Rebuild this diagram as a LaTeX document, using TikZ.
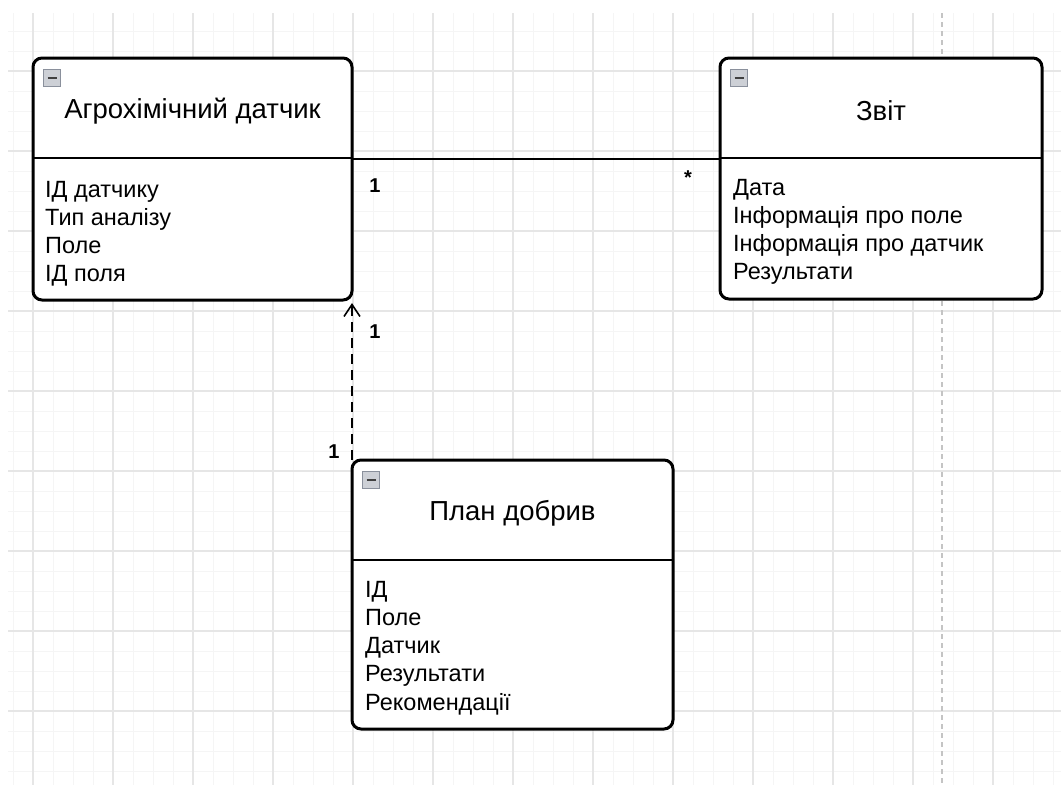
\documentclass[tikz,border=0pt]{standalone}
\usepackage{fontspec}
\setmainfont{Liberation Sans}
\usetikzlibrary{positioning,arrows.meta,calc}
\definecolor{gridminor}{HTML}{F5F5F5}
\definecolor{gridmajor}{HTML}{E6E6E6}
\definecolor{pagebreak}{HTML}{C4C4C4}
\definecolor{iconfill}{HTML}{CDD0D6}
\definecolor{iconborder}{HTML}{8A909C}
\tikzset{
    classbox/.style={rectangle, rounded corners=9pt, draw=black, line width=3pt, fill=white, anchor=north west, inner sep=0pt, outer sep=0pt},
    divider/.style={line width=2.5pt},
    minbox/.style={rectangle, draw=iconborder, fill=iconfill, line width=1.2pt, minimum size=17pt, inner sep=0pt,
        path picture={\draw[line width=2.6pt, black!75] ([xshift=4pt]path picture bounding box.west) -- ([xshift=-4pt]path picture bounding box.east);}},
    classtitle/.style={font=\fontsize{27.5}{32}\selectfont, anchor=base, inner sep=0pt},
    classattr/.style={font=\fontsize{23.5}{27}\selectfont, anchor=base west, inner sep=0pt},
    multlabel/.style={font=\bfseries\fontsize{20}{24}\selectfont, inner sep=0pt},
    assoc/.style={line width=1.5pt},
    dep/.style={line width=2pt, dash pattern=on 10pt off 6pt, -{Straight Barb[length=12pt,width=16pt,line width=1.6pt]}},
}

\begin{document}
\begin{tikzpicture}
        [x=1pt, y=-1pt]

        % Canvas and grid
        \useasboundingbox[fill=white] (0,0) rectangle (1061,785);
        \begin{scope}
            \clip (8,13) rectangle (1061,785);
            \foreach \x in {13,33,...,1061} \draw[gridminor, line width=1pt] (\x,13) -- (\x,785);
            \foreach \y in {31,51,...,785} \draw[gridminor, line width=1pt] (8,\y) -- (1061,\y);
            \foreach \x in {33,113,...,1061} \draw[gridmajor, line width=1.2pt] (\x,13) -- (\x,785);
            \foreach \y in {71,151,...,785} \draw[gridmajor, line width=1.2pt] (8,\y) -- (1061,\y);
            \draw[pagebreak, line width=1.2pt, dash pattern=on 5pt off 4pt] (942,13) -- (942,785);
        \end{scope}

        % Classes
        \node[classbox, minimum width=319pt, minimum height=242pt] (sensor) at (33,58) {};
        \node[classbox, minimum width=322pt, minimum height=241pt] (report) at (720,58) {};
        \node[classbox, minimum width=321pt, minimum height=269pt] (plan) at (352,460) {};

        \foreach \c in {sensor,report,plan} {
            \draw[divider] ([yshift=-100pt]\c.north west) -- ([yshift=-100pt]\c.north east);
            \node[minbox] (\c-min) at ([xshift=19pt,yshift=-20pt]\c.north west) {};
        }

        % Titles
        \node[classtitle] (sensor-title) at ([yshift=-60pt]sensor.north) {Агрохімічний датчик};
        \node[classtitle] (report-title) at ([yshift=-62pt]report.north) {Звіт};
        \node[classtitle] (plan-title) at ([yshift=-60pt]plan.north) {План добрив};

        % Attributes
        \foreach \t [count=\i] in {ІД датчику, Тип аналізу, Поле, ІД поля}
            \node[classattr] (sensor-a\i) at ([xshift=12pt,yshift={-139pt-(\i-1)*28.3pt}]sensor.north west) {\t};
        \foreach \t [count=\i] in {Дата, Інформація про поле, Інформація про датчик, Результати}
            \node[classattr] (report-a\i) at ([xshift=13pt,yshift={-137pt-(\i-1)*28.3pt}]report.north west) {\t};
        \foreach \t [count=\i] in {ІД, Поле, Датчик, Результати, Рекомендації}
            \node[classattr] (plan-a\i) at ([xshift=13pt,yshift={-137pt-(\i-1)*28.3pt}]plan.north west) {\t};

        % Lines
        \draw[assoc] ([yshift=-101pt]sensor.north east) -- ([yshift=-101pt]sensor.north east -| report.west);
        \draw[dep] (plan.north west) -- ([yshift=-3pt]sensor.south east);

        % Multiplicities
        \node[multlabel] (m-sensor-report) at (375,186) {1};
        \node[multlabel] (m-report-sensor) at (688,178) {*};
        \node[multlabel] (m-sensor-plan) at (375,332) {1};
        \node[multlabel] (m-plan-sensor) at (334,452) {1};

    \end{tikzpicture}
\end{document}
